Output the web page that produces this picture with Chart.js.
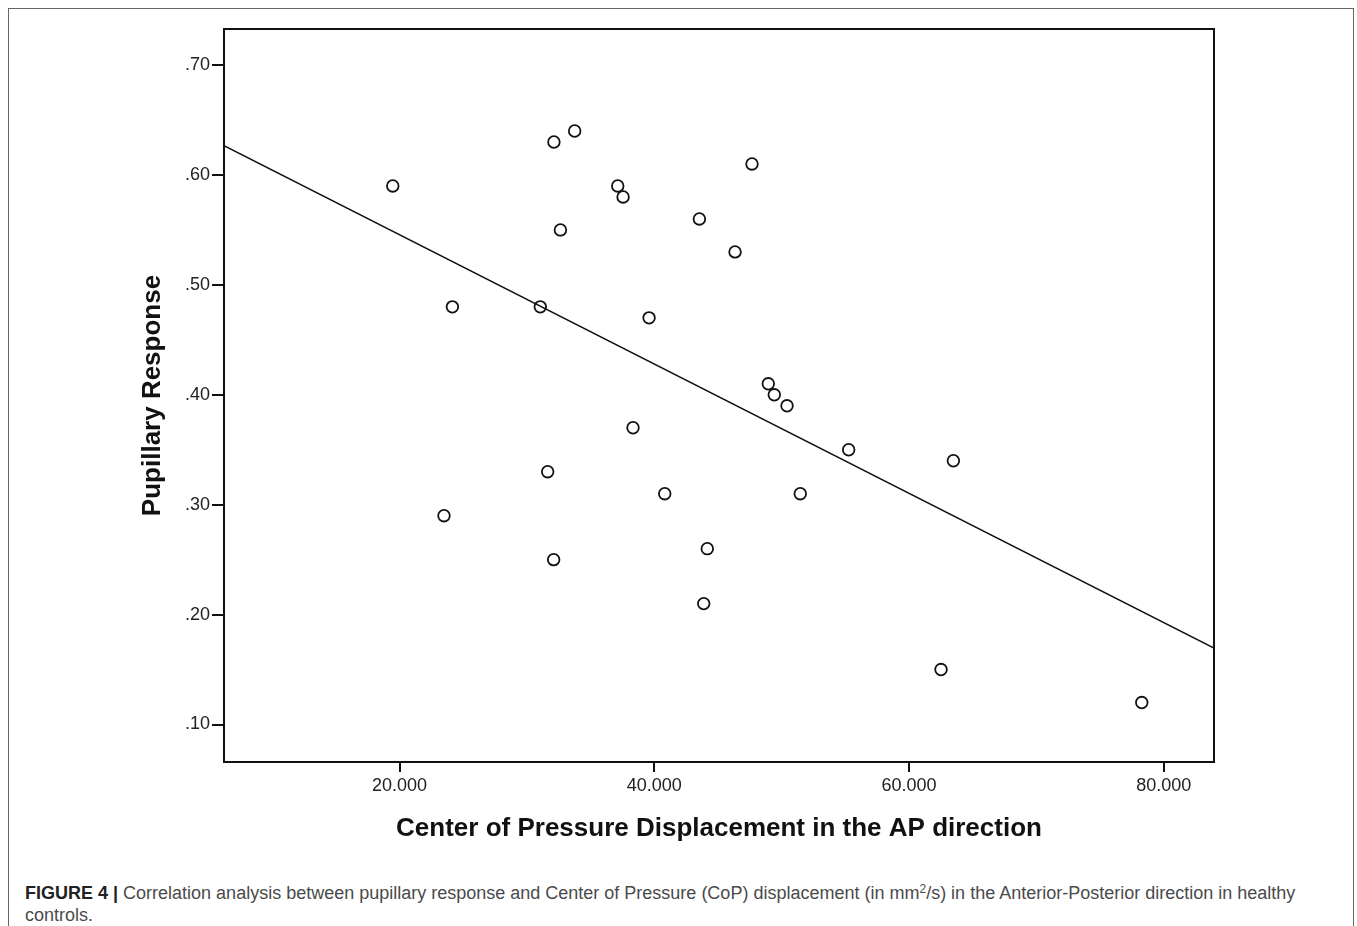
<!DOCTYPE html>
<html>
<head>
<meta charset="utf-8">
<script src="https://cdn.jsdelivr.net/npm/chart.js@4.4.1/dist/chart.umd.min.js"></script>
<style>
  html, body { margin: 0; padding: 0; background: #fff; }
  body { width: 1357px; height: 926px; position: relative; overflow: hidden; }
  #frame { position: absolute; left: 8px; top: 8px; width: 1346px; height: 960px;
           border: 1.5px solid #666; box-sizing: border-box; }
  #chart { position: absolute; left: 0; top: 0; }
  #caption { position: absolute; left: 25px; top: 882px; width: 1305px;
             font-family: "Liberation Sans", Arial, sans-serif; font-size: 18px;
             line-height: 22px; color: #4a4a4a; }
  #caption b { color: #222; }
  #caption sup { font-size: 12px; line-height: 0; vertical-align: 6px; }
</style>
</head>
<body>
<div id="frame"></div>
<canvas id="chart" width="1357" height="870"></canvas>
<div id="caption"><b>FIGURE 4 |</b> Correlation analysis between pupillary response and Center of Pressure (CoP) displacement (in mm<sup>2</sup>/s) in the Anterior-Posterior direction in healthy controls.</div>
<script>
// ---- data ----
const copDisplacement = [19.47, 24.15, 23.49, 31.05, 31.63, 32.12, 32.10, 32.63, 33.75, 37.13,
                         37.55, 38.33, 39.59, 40.82, 43.54, 43.88, 44.16, 46.34, 47.67, 48.95,
                         49.42, 50.42, 51.46, 55.26, 62.51, 63.48, 78.27];
const pupillaryResponse = [0.59, 0.48, 0.29, 0.48, 0.33, 0.63, 0.25, 0.55, 0.64, 0.59,
                           0.58, 0.37, 0.47, 0.31, 0.56, 0.21, 0.26, 0.53, 0.61, 0.41,
                           0.40, 0.39, 0.31, 0.35, 0.15, 0.34, 0.12];
const fitLineX = [6.22, 83.94];
const fitLineY = [0.6266, 0.1695];
const xTickValues = [20, 40, 60, 80];
const xTickLabels = ['20.000', '40.000', '60.000', '80.000'];
const yTickValues = [0.1, 0.2, 0.3, 0.4, 0.5, 0.6, 0.7];
const yTickLabels = ['.10', '.20', '.30', '.40', '.50', '.60', '.70'];
const xAxisTitle = 'Center of Pressure Displacement in the AP direction';
const yAxisTitle = 'Pupillary Response';

// ---- chart ----
const scatterPoints = copDisplacement.map((x, i) => ({ x: x, y: pupillaryResponse[i] }));
const linePoints = fitLineX.map((x, i) => ({ x: x, y: fitLineY[i] }));

const boxPlugin = {
  id: 'plotBox',
  afterDraw(chart) {
    const { ctx, chartArea: a } = chart;
    ctx.save();
    ctx.strokeStyle = '#111';
    ctx.lineWidth = 2;
    ctx.strokeRect(a.left, a.top, a.right - a.left, a.bottom - a.top);
    ctx.restore();
  }
};

const tickFont = { family: '"Liberation Sans", Arial, sans-serif', size: 18 };
const titleFont = { family: '"Liberation Sans", Arial, sans-serif', size: 26, weight: 'bold' };

new Chart(document.getElementById('chart'), {
  type: 'scatter',
  data: {
    datasets: [
      {
        type: 'line',
        data: linePoints,
        borderColor: '#111',
        borderWidth: 1.6,
        pointRadius: 0,
        fill: false,
        order: 2
      },
      {
        type: 'scatter',
        data: scatterPoints,
        pointRadius: 5.8,
        pointBorderWidth: 1.8,
        borderColor: '#111',
        backgroundColor: 'rgba(255,255,255,0)',
        pointBackgroundColor: 'rgba(255,255,255,0)',
        order: 1
      }
    ]
  },
  options: {
    responsive: false,
    animation: false,
    devicePixelRatio: 1,
    layout: { padding: { top: 29, right: 143, left: 0, bottom: 0 } },
    plugins: { legend: { display: false }, tooltip: { enabled: false } },
    scales: {
      x: {
        type: 'linear',
        min: 6.22,
        max: 83.94,
        afterFit(scale) { scale.height = 108; },
        afterBuildTicks(scale) { scale.ticks = xTickValues.map(v => ({ value: v })); },
        ticks: {
          callback: (v) => { const i = xTickValues.indexOf(v); return i >= 0 ? xTickLabels[i] : ''; },
          font: tickFont, color: '#222', padding: 3, maxRotation: 0, autoSkip: false
        },
        grid: { display: true, drawOnChartArea: false, drawTicks: true, tickLength: 10, color: '#111', lineWidth: 2 },
        border: { display: true, color: '#111', width: 2 },
        title: { display: true, text: xAxisTitle, font: titleFont, color: '#111', padding: { top: 0, bottom: 26 } }
      },
      y: {
        type: 'linear',
        min: 0.0659,
        max: 0.7328,
        afterFit(scale) { scale.width = 224; },
        afterBuildTicks(scale) { scale.ticks = yTickValues.map(v => ({ value: v })); },
        ticks: {
          callback: (v) => { const i = yTickValues.findIndex(t => Math.abs(t - v) < 1e-9); return i >= 0 ? yTickLabels[i] : ''; },
          font: tickFont, color: '#222', padding: 2, autoSkip: false
        },
        grid: { display: true, drawOnChartArea: false, drawTicks: true, tickLength: 12, color: '#111', lineWidth: 2 },
        border: { display: true, color: '#111', width: 2 },
        title: { display: true, text: yAxisTitle, font: titleFont, color: '#111', padding: { top: 137, bottom: 0 } }
      }
    }
  },
  plugins: [boxPlugin]
});
</script>
</body>
</html>
